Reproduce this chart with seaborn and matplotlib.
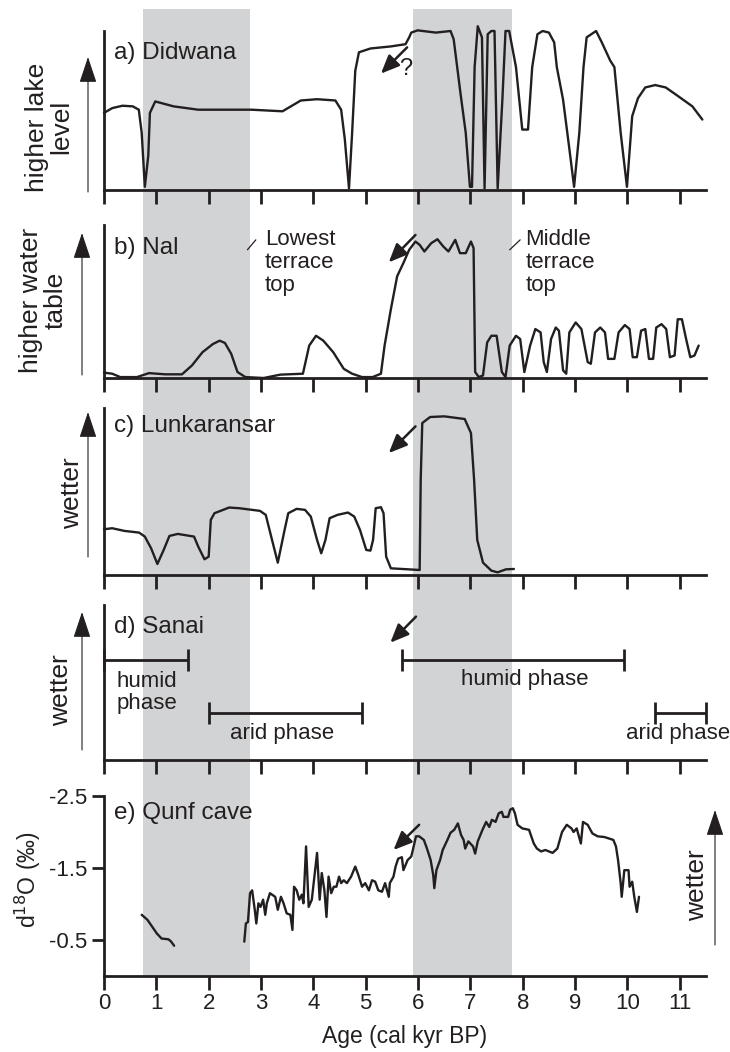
import numpy as np
import pandas as pd
import matplotlib
matplotlib.use("Agg")
import matplotlib.pyplot as plt
import seaborn as sns

# ---------------- data ----------------
band_start = [0.74, 5.9]
band_end = [2.78, 7.8]

a_age = [0, 0.157, 0.353, 0.55, 0.665, 0.72, 0.78, 0.846, 0.877, 0.979, 1.33, 1.80, 2.82, 3.41, 3.76,
         4.07, 4.42, 4.53, 4.60, 4.68, 4.74, 4.80, 4.87, 5.09, 5.48, 5.76, 5.83, 5.87, 5.99, 6.34, 6.62,
         6.68, 6.81, 6.91, 6.99, 7.03, 7.08, 7.14, 7.22, 7.27, 7.33, 7.40, 7.46, 7.52, 7.61, 7.67, 7.74,
         7.87, 7.99, 8.10, 8.18, 8.28, 8.38, 8.50, 8.60, 8.65, 8.77, 8.89, 8.98, 9.08, 9.16, 9.22, 9.40,
         9.51, 9.67, 9.75, 9.87, 9.99, 10.09, 10.20, 10.34, 10.53, 10.73, 10.96, 11.24, 11.43]
a_level = [0.485, 0.515, 0.53, 0.526, 0.505, 0.36, 0.02, 0.216, 0.485, 0.557, 0.526, 0.505, 0.505, 0.495,
           0.563, 0.571, 0.563, 0.505, 0.32, 0.01, 0.36, 0.75, 0.866, 0.89, 0.903, 0.917, 0.96, 0.99, 1.004,
           0.99, 1.0, 0.948, 0.608, 0.36, 0.02, 0.02, 0.773, 1.03, 0.96, 0.01, 0.98, 1.0, 1.0, 0.01, 0.567,
           1.0, 1.0, 0.773, 0.38, 0.38, 0.773, 0.98, 1.0, 0.99, 0.928, 0.773, 0.567, 0.258, 0.02, 0.36,
           0.773, 0.96, 1.0, 0.928, 0.814, 0.773, 0.36, 0.02, 0.464, 0.577, 0.645, 0.66, 0.645, 0.592,
           0.526, 0.443]

b_age = [0, 0.157, 0.31, 0.63, 0.86, 1.17, 1.49, 1.68, 1.88, 2.08, 2.21, 2.31, 2.43, 2.55, 2.70, 3.05,
         3.37, 3.80, 3.92, 4.05, 4.19, 4.38, 4.58, 4.74, 4.93, 5.13, 5.29, 5.36, 5.48, 5.60, 5.72, 5.83,
         5.95, 6.03, 6.12, 6.25, 6.37, 6.48, 6.58, 6.71, 6.80, 6.91, 7.01, 7.06, 7.09, 7.16, 7.24, 7.32,
         7.40, 7.50, 7.60, 7.67, 7.75, 7.87, 7.95, 8.03, 8.14, 8.24, 8.34, 8.40, 8.46, 8.54, 8.63, 8.69,
         8.77, 8.83, 8.89, 9.01, 9.12, 9.24, 9.30, 9.38, 9.48, 9.57, 9.63, 9.75, 9.83, 9.95, 10.04, 10.10,
         10.18, 10.26, 10.34, 10.41, 10.49, 10.55, 10.65, 10.74, 10.81, 10.90, 10.96, 11.04, 11.12, 11.20,
         11.28, 11.36]
b_table = [0.035, 0.028, 0.006, 0.006, 0.032, 0.024, 0.024, 0.082, 0.168, 0.222, 0.244, 0.229, 0.158,
           0.039, 0.006, 0.0, 0.022, 0.028, 0.212, 0.276, 0.244, 0.168, 0.06, 0.028, 0.006, 0.006, 0.028,
           0.212, 0.449, 0.665, 0.752, 0.838, 0.892, 0.87, 0.827, 0.881, 0.907, 0.86, 0.827, 0.903, 0.816,
           0.816, 0.892, 0.849, 0.039, 0.006, 0.017, 0.233, 0.276, 0.276, 0.039, 0.006, 0.212, 0.276, 0.255,
           0.039, 0.212, 0.32, 0.298, 0.104, 0.039, 0.255, 0.33, 0.309, 0.05, 0.028, 0.298, 0.363, 0.32,
           0.104, 0.093, 0.298, 0.33, 0.298, 0.125, 0.125, 0.298, 0.346, 0.32, 0.136, 0.136, 0.309, 0.32,
           0.125, 0.125, 0.33, 0.352, 0.32, 0.136, 0.147, 0.384, 0.384, 0.255, 0.136, 0.147, 0.212]

c_age = [0, 0.157, 0.39, 0.67, 0.78, 0.90, 1.02, 1.14, 1.25, 1.41, 1.72, 1.80, 1.92, 2.0, 2.04, 2.11,
         2.39, 2.58, 2.98, 3.09, 3.21, 3.32, 3.45, 3.52, 3.68, 3.84, 3.95, 4.07, 4.15, 4.23, 4.31, 4.46,
         4.66, 4.78, 4.89, 5.01, 5.09, 5.14, 5.19, 5.29, 5.34, 5.39, 5.48, 6.03, 6.05, 6.08, 6.23, 6.50,
         6.89, 7.01, 7.07, 7.13, 7.24, 7.40, 7.52, 7.68, 7.83]
c_wet = [0.274, 0.28, 0.264, 0.254, 0.23, 0.16, 0.066, 0.15, 0.234, 0.246, 0.23, 0.17, 0.094, 0.11, 0.33,
         0.37, 0.404, 0.40, 0.384, 0.36, 0.21, 0.074, 0.27, 0.37, 0.396, 0.39, 0.35, 0.21, 0.13, 0.21,
         0.34, 0.36, 0.374, 0.35, 0.27, 0.15, 0.146, 0.21, 0.40, 0.406, 0.37, 0.11, 0.04, 0.03, 0.57, 0.91,
         0.946, 0.95, 0.934, 0.85, 0.57, 0.21, 0.074, 0.026, 0.016, 0.034, 0.036]

d_phase = ["humid", "humid", "arid", "arid"]
d_start = [0.0, 5.69, 2.01, 10.53]
d_end = [1.61, 9.93, 4.93, 11.5]
d_level = [0.645, 0.645, 0.305, 0.305]

e1_age = [0.72, 0.83, 1.01, 1.10, 1.23, 1.28, 1.34]
e1_d18o = [-0.85, -0.78, -0.59, -0.52, -0.51, -0.48, -0.42]
e2_age = [2.68, 2.71, 2.75, 2.79, 2.83, 2.88, 2.91, 2.95, 2.99, 3.04, 3.08, 3.11, 3.17, 3.27, 3.32,
          3.38, 3.43, 3.49, 3.56, 3.60, 3.63, 3.68, 3.73, 3.78, 3.81, 3.86, 3.91, 3.97, 4.02, 4.07, 4.12,
          4.16, 4.21, 4.25, 4.29, 4.34, 4.39, 4.44, 4.49, 4.53, 4.58, 4.64, 4.72, 4.80, 4.86, 4.93, 4.99,
          5.06, 5.12, 5.18, 5.24, 5.31, 5.37,
          5.44, 5.46, 5.53, 5.57, 5.62, 5.69, 5.72, 5.80, 5.87, 5.90, 5.96, 6.02, 6.11, 6.17, 6.24, 6.29,
          6.31, 6.35, 6.42, 6.47, 6.56, 6.62, 6.69, 6.76, 6.82, 6.87, 6.90, 6.96, 7.05, 7.09, 7.14, 7.23,
          7.30, 7.36, 7.41, 7.48, 7.54, 7.60, 7.63, 7.72, 7.76, 7.81, 7.85, 7.90, 7.99, 8.12, 8.21, 8.27,
          8.35, 8.43, 8.57, 8.66, 8.75, 8.84, 8.93, 8.97, 9.03, 9.11, 9.15, 9.24, 9.33, 9.43, 9.56, 9.73,
          9.78, 9.82, 9.87, 9.89, 9.94, 10.02, 10.04, 10.09, 10.13, 10.18, 10.22]
e2_d18o = [-0.477, -0.73, -0.75, -1.15, -1.19, -0.92, -0.73, -1.01, -0.96, -1.06, -0.85, -1.01, -1.15,
           -1.10, -0.92, -1.10, -1.01, -0.87, -0.85, -0.64, -1.24, -1.19, -1.06, -1.13, -1.01, -1.80, -0.96,
           -1.06, -1.38, -1.71, -1.06, -1.43, -1.19, -0.82, -1.38, -1.15, -1.24, -1.24, -1.38, -1.29, -1.33,
           -1.29, -1.38, -1.52, -1.40, -1.24, -1.29, -1.19, -1.33, -1.31, -1.19, -1.17, -1.29,
           -1.10, -1.29, -1.38, -1.52, -1.63, -1.65, -1.47, -1.61, -1.66, -1.75, -1.94, -1.94, -1.89, -1.77,
           -1.61, -1.40, -1.22, -1.47, -1.61, -1.75, -1.89, -1.99, -2.03, -2.12, -1.96, -1.89, -1.77, -1.87,
           -1.80, -1.70, -1.87, -2.03, -2.14, -2.07, -2.17, -2.14, -2.26, -2.28, -2.21, -2.21, -2.31, -2.33,
           -2.26, -2.10, -2.05, -2.03, -1.84, -1.77, -1.73, -1.75, -1.71, -1.77, -2.00, -2.10, -2.05, -2.00,
           -2.05, -1.84, -2.14, -2.10, -1.98, -1.94, -1.93, -1.89, -1.80, -1.61, -1.29, -1.10, -1.47, -1.47,
           -1.24, -1.31, -1.10, -0.89, -1.10]
e_ticks = [-2.5, -1.5, -0.5]
e_ticklabels = ["-2.5", "-1.5", "-0.5"]
x_ticks = list(range(12))

# arrows marking ~5.9 kyr onset (tail -> head) per panel
arrow_tail = {"a": (5.79, 0.897), "b": (5.95, 0.935), "c": (5.95, 0.89), "d": (5.96, 0.925), "e": (6.02, -2.10)}
arrow_head = {"a": (5.29, 0.732), "b": (5.44, 0.756), "c": (5.44, 0.73), "d": (5.47, 0.757), "e": (5.53, -1.75)}

panel_titles = ["a) Didwana", "b) Nal", "c) Lunkaransar", "d) Sanai", "e) Qunf cave"]

# ---------------- style ----------------
sns.set_theme(style="ticks")
plt.rcParams["font.family"] = ["Liberation Sans", "DejaVu Sans"]
plt.rcParams["axes.unicode_minus"] = False
plt.rcParams["text.color"] = "#231f20"

BAND = "#d1d3d4"
LINE = "#231f20"
W, H = 730, 1052
fig = plt.figure(figsize=(W / 100, H / 100), dpi=100)


def rect(top, bottom, left=104, right=706):
    return [left / W, 1 - bottom / H, (right - left) / W, (bottom - top) / H]


# background shading shared by all panels
bg = fig.add_axes(rect(9, 976), zorder=0)
bg.set_xlim(0, 11.5)
bg.set_ylim(0, 1)
for s, e in zip(band_start, band_end):
    bg.axvspan(s, e, color=BAND, lw=0)
bg.axis("off")

panel_px = [(31, 190), (225, 378), (408, 575), (605, 760), (796, 976)]
axes = []
for i, (t, b) in enumerate(panel_px):
    ax = fig.add_axes(rect(t, b), zorder=2)
    ax.set_facecolor("none")
    ax.set_xlim(0, 11.5)
    ax.set_xticks(x_ticks)
    for sp in ["top", "right"]:
        ax.spines[sp].set_visible(False)
    for sp in ["left", "bottom"]:
        ax.spines[sp].set_linewidth(2.0)
        ax.spines[sp].set_color(LINE)
    ax.tick_params(axis="x", direction="out", length=10, width=2, color=LINE,
                   labelbottom=(i == 4), labelsize=16, pad=2, labelcolor=LINE)
    if i < 4:
        ax.set_ylim(0, 1)
        ax.set_yticks([])
    axes.append(ax)

lw = 1.7
kw = dict(color=LINE, lw=lw, sort=False, estimator=None, clip_on=False)

sns.lineplot(x=a_age, y=a_level, ax=axes[0], **kw)
sns.lineplot(x=b_age, y=b_table, ax=axes[1], **kw)
sns.lineplot(x=c_age, y=c_wet, ax=axes[2], **kw)

# panel d: phase bars
axd = axes[3]
mid = [(s + e) / 2 for s, e in zip(d_start, d_end)]
half = [(e - s) / 2 for s, e in zip(d_start, d_end)]
axd.errorbar(mid, d_level, xerr=half, fmt="none", ecolor=LINE, elinewidth=2,
             capsize=8, capthick=2, clip_on=False)

# panel e
df_e = pd.DataFrame({
    "age": e1_age + e2_age,
    "d18o": e1_d18o + e2_d18o,
    "seg": [1] * len(e1_age) + [2] * len(e2_age),
})
axe = axes[4]
sns.lineplot(data=df_e, x="age", y="d18o", units="seg", ax=axe, **kw)
axe.set_ylim(0.0, -2.5)
axe.set_yticks(e_ticks)
axe.set_yticklabels(e_ticklabels)
axe.tick_params(axis="y", direction="out", length=9, width=2, color=LINE, labelsize=16, pad=3,
                labelcolor=LINE)
axe.set_xticklabels([str(t) for t in x_ticks])
axe.set_xlabel("Age (cal kyr BP)", fontsize=16.5, labelpad=8, color=LINE)
axe.set_ylabel("")

for ax in axes:
    if ax is not axe:
        ax.set_xlabel("")
        ax.set_ylabel("")

# titles and onset arrows
title_y = [0.86, 0.85, 0.89, 0.86, -2.26]
for ax, key, title, ty in zip(axes, "abcde", panel_titles, title_y):
    ax.text(0.2, ty, title, fontsize=17.5, ha="left", va="center")
    ax.annotate("", xy=arrow_head[key], xytext=arrow_tail[key],
                arrowprops=dict(arrowstyle="-|>,head_length=0.7,head_width=0.3", lw=1.8,
                                color=LINE, mutation_scale=16, shrinkA=0, shrinkB=0))
axes[0].text(5.77, 0.76, "?", fontsize=17, ha="center", va="center")

# panel b annotations
axb = axes[1]
axb.plot([2.74, 2.90], [0.838, 0.903], color=LINE, lw=0.9)
axb.plot([7.75, 7.95], [0.838, 0.903], color=LINE, lw=0.9)
axb.text(3.07, 0.757, "Lowest\nterrace\ntop", fontsize=16, ha="left", va="center", linespacing=1.12)
axb.text(8.05, 0.757, "Middle\nterrace\ntop", fontsize=16, ha="left", va="center", linespacing=1.12)

# panel d annotations
axd.text(0.24, 0.435, "humid\nphase", fontsize=16, ha="left", va="center", linespacing=1.1)
axd.text(8.04, 0.52, "humid phase", fontsize=16, ha="center", va="center")
axd.text(3.41, 0.172, "arid phase", fontsize=16, ha="center", va="center")
axd.text(10.96, 0.172, "arid phase", fontsize=16, ha="center", va="center")

# side labels with arrows (figure pixel positions)
def ftext(x, y, s, **k):
    fig.text(x / W, 1 - y / H, s, rotation=90, ha="center", va="center", **k)


def farrow(x, y_tail, y_tip):
    fig.add_artist(matplotlib.patches.FancyArrowPatch(
        (x / W, 1 - y_tail / H), (x / W, 1 - y_tip / H), transform=fig.transFigure,
        arrowstyle="-|>,head_length=0.9,head_width=0.3", mutation_scale=18,
        lw=0.8, color=LINE, shrinkA=0, shrinkB=0))


ftext(49, 127, "higher lake\nlevel", fontsize=19, linespacing=1.05, multialignment="center")
farrow(88, 192, 57)
ftext(43, 300, "higher water\ntable", fontsize=19, linespacing=1.05, multialignment="center")
farrow(82, 375, 233)
ftext(72, 493, "wetter", fontsize=19)
farrow(88, 557, 412)
ftext(61, 690, "wetter", fontsize=19)
farrow(82, 750, 612)
ftext(28, 880, "d$^{18}$O (‰)", fontsize=16.5)
ftext(697, 885, "wetter", fontsize=19)
farrow(715, 945, 810)

fig.savefig("out.png", dpi=100)
